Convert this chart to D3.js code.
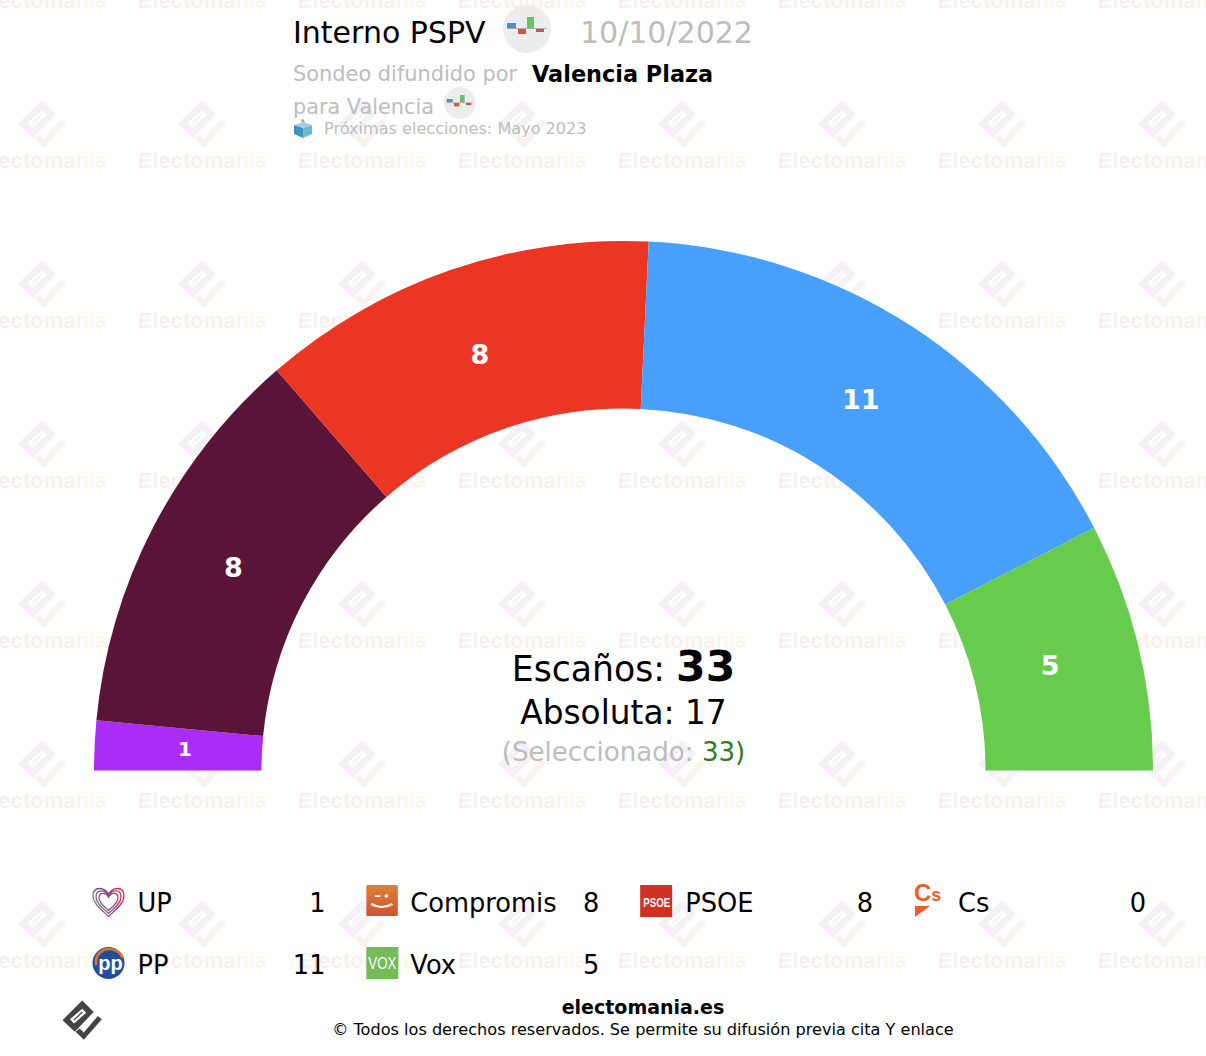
<!DOCTYPE html>
<html lang="es">
<head>
<meta charset="UTF-8" />
<title>Interno PSPV</title>
<script src="https://d3js.org/d3.v7.min.js"></script>
<style>
  html, body { margin: 0; padding: 0; background: #fff; }
  svg { display: block; }
  text { font-family: "DejaVu Sans", Verdana, sans-serif; }
</style>
</head>
<body>
<svg id="chart" width="1206" height="1056"></svg>
<script>
const parties = ["UP", "Compromis", "PSOE", "Cs", "PP", "Vox"];
const seats = [1, 8, 8, 0, 11, 5];
const colors = ["#AB2CF7", "#5A1437", "#EC3624", "#EB6109", "#48A0FA", "#67CC4E"];
const majority = 17;
const selected = 33;

const width = 1206, height = 1056;
const cx = 623.5, cy = 770.5;
const outerR = 529.5, innerR = 362;
const labelR = 439;

const svg = d3.select("#chart");
const defs = svg.append("defs");

const grad = defs.append("linearGradient").attr("id", "wmText");
grad.append("stop").attr("offset", "0%").attr("stop-color", "#f7eff3");
grad.append("stop").attr("offset", "55%").attr("stop-color", "#fbefeb");
grad.append("stop").attr("offset", "100%").attr("stop-color", "#fff8ea");

// electomania logo, centred on 0,0
function logo(g, c1, c2, hole) {
  g.append("path").attr("fill", c1).attr("d", "M-1,-25 L13,-11 L-10,13 L-25,-1 Z");
  g.append("path").attr("fill", hole).attr("d", "M-1,-15 L4,-10 L-11,3 L-16,-2 Z");
  g.append("path").attr("stroke", c1).attr("stroke-width", 1.5).attr("d", "M-1,-11 L-11,-1");
  g.append("path").attr("fill", c2).attr("d", "M18,-6 L23,-2 L1,23 L-9,13 L-4,9 L1,14 Z");
}

// watermark grid
const wm = svg.append("g");
d3.range(-1, 7).forEach((row) => {
  d3.range(0, 8).forEach((col) => {
    const x = 43 + col * 160, y = 125 + row * 160;
    logo(wm.append("g").attr("transform", `translate(${x},${y})`), "#f4f0f6", "#f9f2ee", "#fff");
    wm.append("text")
      .attr("x", x - 0.5).attr("y", y + 43)
      .attr("text-anchor", "middle")
      .style("font-family", "'Liberation Sans', Arial, sans-serif")
      .style("font-weight", "bold")
      .style("font-size", "22px")
      .attr("fill", "url(#wmText)")
      .text("Electomanía");
  });
});

// hemicycle
const pie = d3.pie().sort(null).startAngle(-Math.PI / 2).endAngle(Math.PI / 2);
const arc = d3.arc().innerRadius(innerR).outerRadius(outerR);
const labelArc = d3.arc().innerRadius(labelR).outerRadius(labelR);
const slices = pie(seats).map((d, i) => ({ ...d, party: parties[i], color: colors[i] }))
  .filter((d) => d.value > 0);

const hemi = svg.append("g").attr("transform", `translate(${cx},${cy})`);
hemi.selectAll("path").data(slices).join("path")
  .attr("d", arc)
  .attr("fill", (d) => d.color);
hemi.selectAll("text").data(slices).join("text")
  .attr("transform", (d) => `translate(${labelArc.centroid(d)})`)
  .attr("text-anchor", "middle")
  .attr("dy", "0.3em")
  .attr("fill", "#fff")
  .style("font-weight", "bold")
  .style("font-size", (d) => (d.value === 1 ? "20px" : "27px"))
  .text((d) => d.value);

function label(x, y, size, color, str, weight, anchor) {
  return svg.append("text")
    .attr("x", x).attr("y", y)
    .attr("fill", color)
    .attr("text-anchor", anchor || "start")
    .style("font-size", size + "px")
    .style("font-weight", weight || "normal")
    .text(str);
}

function pollIcon(x, y, r) {
  const k = r / 24;
  const g = svg.append("g").attr("transform", `translate(${x},${y}) scale(${k})`);
  g.append("circle").attr("r", 24).attr("fill", "#eeedee");
  g.append("rect").attr("x", -20).attr("y", -6).attr("width", 9).attr("height", 5).attr("fill", "#4a90d0");
  g.append("rect").attr("x", -9).attr("y", 0).attr("width", 8).attr("height", 5).attr("fill", "#d9503f");
  g.append("rect").attr("x", 0).attr("y", -12).attr("width", 7).attr("height", 11).attr("fill", "#6fbf68");
  g.append("rect").attr("x", 9).attr("y", 0).attr("width", 8).attr("height", 3).attr("fill", "#d9503f");
  g.append("line").attr("x1", -20).attr("x2", 20).attr("y1", -0.5).attr("y2", -0.5)
    .attr("stroke", "#999").attr("stroke-width", 0.8);
}

// header
label(293, 43, 30, "#000", "Interno PSPV");
pollIcon(527, 29, 24);
label(580, 43, 30, "#bdbdbd", "10/10/2022");
label(293, 81, 20.9, "#bdbdbd", "Sondeo difundido por");
label(532, 82, 22.4, "#000", "Valencia Plaza", "bold");
label(293, 114, 20.8, "#bdbdbd", "para Valencia");
pollIcon(460, 103, 16);
const box = svg.append("g").attr("transform", "translate(303,129)");
box.append("path").attr("d", "M-2,-9 L0,-10 L2,-7 L0,-5 Z").attr("fill", "#e8913a");
box.append("path").attr("d", "M-9,-4 L0,-7 L9,-4 L0,-1 Z").attr("fill", "#9ad0e6");
box.append("path").attr("d", "M-9,-4 L0,-1 L0,9 L-9,5 Z").attr("fill", "#3f95bd");
box.append("path").attr("d", "M9,-4 L0,-1 L0,9 L9,5 Z").attr("fill", "#6db8d6");
label(324, 134, 16.1, "#bdbdbd", "Próximas elecciones: Mayo 2023");

// centre text
const total = d3.sum(seats);
const t1 = label(cx, 681, 34.7, "#000", "Escaños: ", "normal", "middle");
t1.append("tspan").style("font-weight", "bold").style("font-size", "42.5px").text(total);
label(cx, 724, 32.8, "#000", `Absoluta: ${majority}`, "normal", "middle");
const t3 = label(cx, 761, 26.1, "#bdbdbd", "(Seleccionado: ", "normal", "middle");
t3.append("tspan").attr("fill", "#2f7d1e").text(selected + ")");

// legend icons
const icons = {
  UP(g) {
    const lg = defs.append("linearGradient").attr("id", "upGrad")
      .attr("gradientUnits", "userSpaceOnUse")
      .attr("x1", -15).attr("y1", 10).attr("x2", 15).attr("y2", -5);
    lg.append("stop").attr("offset", "0%").attr("stop-color", "#7fae5a");
    lg.append("stop").attr("offset", "45%").attr("stop-color", "#7b3f98");
    lg.append("stop").attr("offset", "100%").attr("stop-color", "#d8344f");
    [15.5, 12.5, 9.5].forEach((s) => {
      g.append("path").attr("fill", "none").attr("stroke", "url(#upGrad)").attr("stroke-width", 1.3)
        .attr("d", `M0,${s} C${-s * 0.4},${s * 0.6} ${-s},${s * 0.2} ${-s},${-s * 0.35} C${-s},${-s * 0.95} ${-s * 0.25},${-s * 0.95} 0,${-s * 0.4} C${s * 0.25},${-s * 0.95} ${s},${-s * 0.95} ${s},${-s * 0.35} C${s},${s * 0.2} ${s * 0.4},${s * 0.6} 0,${s}`);
    });
  },
  Compromis(g) {
    const lg = defs.append("linearGradient").attr("id", "compGrad").attr("x2", 0).attr("y2", 1);
    lg.append("stop").attr("offset", "0%").attr("stop-color", "#df8038");
    lg.append("stop").attr("offset", "100%").attr("stop-color", "#cf5430");
    g.append("rect").attr("x", -16).attr("y", -16).attr("width", 31.5).attr("height", 31).attr("rx", 1.5).attr("fill", "url(#compGrad)");
    g.append("path").attr("d", "M-11,3 Q-1,9 10,3").attr("fill", "none").attr("stroke", "#fff").attr("stroke-width", 2.2);
    g.append("path").attr("d", "M-7,-5 L-2,-5").attr("stroke", "#fff").attr("stroke-width", 2);
    g.append("circle").attr("cx", 4).attr("cy", -5).attr("r", 1.8).attr("fill", "#fff");
  },
  PSOE(g) {
    g.append("rect").attr("x", -16).attr("y", -16).attr("width", 32).attr("height", 32).attr("fill", "#d22f25");
    g.append("text").attr("y", 6).attr("x", -13).attr("fill", "#fff")
      .attr("textLength", 27).attr("lengthAdjust", "spacingAndGlyphs")
      .style("font-family", "'Liberation Sans', Arial, sans-serif")
      .style("font-weight", "bold").style("font-size", "13px").text("PSOE");
  },
  Cs(g) {
    const t = g.append("text").attr("x", -16).attr("y", 0).attr("fill", "#ea5f2b")
      .style("font-family", "'Liberation Sans', Arial, sans-serif")
      .style("font-weight", "bold");
    t.append("tspan").style("font-size", "24px").text("C");
    t.append("tspan").style("font-size", "18px").text("s");
    g.append("path").attr("d", "M-15,5 L0,5 L-15,16 Z").attr("fill", "#ea5f2b");
  },
  PP(g) {
    g.append("circle").attr("r", 16).attr("fill", "#1f4f9e");
    g.append("path").attr("d", "M-12,2 A12,11 0 0 1 14,-5").attr("fill", "none").attr("stroke", "#e8702a").attr("stroke-width", 2.6);
    g.append("text").attr("x", 2).attr("y", 7).attr("text-anchor", "middle").attr("fill", "#fff")
      .style("font-family", "'Liberation Sans', Arial, sans-serif")
      .style("font-weight", "bold").style("font-size", "20px").text("pp");
  },
  Vox(g) {
    g.append("rect").attr("x", -16).attr("y", -16).attr("width", 32).attr("height", 32).attr("fill", "#74bb5a");
    g.append("text").attr("x", -14).attr("y", 6).attr("fill", "#fff")
      .attr("textLength", 28).attr("lengthAdjust", "spacingAndGlyphs")
      .style("font-family", "'Liberation Sans', Arial, sans-serif")
      .style("font-size", "17px").text("VOX");
  }
};

// legend
const legendX = d3.scalePoint().domain(d3.range(4)).range([108.5, 930]);
const legendY = d3.scalePoint().domain(d3.range(2)).range([901, 963]);
const labelOffset = [29, 28, 29, 28];
const valueOffset = [217, 217, 217, 216];

parties.forEach((p, i) => {
  const col = i % 4, row = Math.floor(i / 4);
  const x = legendX(col), y = legendY(row);
  icons[p](svg.append("g").attr("transform", `translate(${x},${y})`));
  label(x + labelOffset[col], y + 10.5, 25.7, "#000", p);
  label(x + valueOffset[col], y + 10.5, 25.7, "#000", seats[i], "normal", "end");
});

// footer
logo(svg.append("g").attr("transform", "translate(83,1021) scale(0.82)"), "#444", "#444", "#fff");
label(643, 1014, 19, "#000", "electomania.es", "bold", "middle");
label(643, 1035, 16.13, "#000", "© Todos los derechos reservados. Se permite su difusión previa cita Y enlace", "normal", "middle");
</script>
</body>
</html>
